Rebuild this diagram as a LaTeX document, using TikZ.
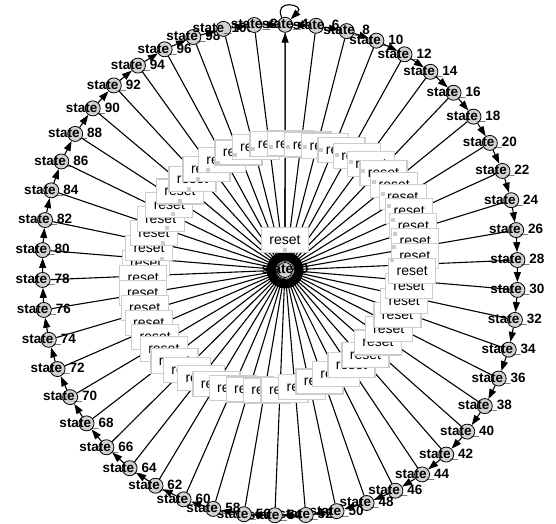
\documentclass[tikz,border=0pt]{standalone}
\usepackage{fontspec}
\setmainfont{Liberation Sans}
\usetikzlibrary{arrows.meta,calc}
\pgfdeclarelayer{edgelayer}
\pgfdeclarelayer{boxlayer}
\pgfsetlayers{edgelayer,boxlayer,main}
\tikzset{
  st/.style={circle, draw, fill=gray!35, minimum size=15pt, inner sep=0pt, line width=0.8pt},
  stlabel/.style={font=\fontsize{13.5}{14}\selectfont\bfseries, inner sep=0pt},
  resetbox/.style={draw=gray!40, fill=white, line width=1.2pt, minimum width=47pt, minimum height=25pt, inner sep=0pt, font=\fontsize{14}{14}\selectfont},
  ed/.style={line width=1.1pt, -{Triangle[length=10pt,width=7pt]}},
  anchormark/.style={fill=gray!40},
}
\begin{document}
\begin{tikzpicture}[x=1pt,y=-1pt]
\useasboundingbox (0,0) rectangle (556,523);
\node[st] (c) at (285,270) {};
\node[stlabel] (tc) at (c) {state\_0};
\foreach \k in {0,...,49} {
  \pgfmathsetmacro\ang{1.2+7.2*\k}
  \pgfmathsetmacro\rad{241+4*cos(2*\ang)+7*abs(sin(2*\ang))}
  \pgfmathtruncatemacro\num{2*(mod(\k+1,50)+1)}
  \node[st] (n\k) at ({280+\rad*sin(\ang)},{270-\rad*cos(\ang)}) {};
  \node[stlabel] (t\k) at (n\k) {state\_\num};
}
\begin{pgfonlayer}{edgelayer}
\foreach \k in {0,...,49} {
  \pgfmathtruncatemacro\j{mod(\k+1,50)}
  \draw[ed] (n\k) -- (n\j);
  \draw[ed] (n\k) -- (c);
}
\draw[ed] (c) -- (n0);
\path (n0) edge[ed, out=115, in=45, looseness=6] (n0);
\end{pgfonlayer}
\begin{pgfonlayer}{boxlayer}
\foreach \k in {37,36,...,13,38,39,...,49,0,1,...,12} {
  \pgfmathsetmacro\ang{1.2+7.2*\k}
  \pgfmathsetmacro\dx{-3.5+26.5*cos(\ang)+13.5*sin(\ang)}
  \pgfmathsetmacro\dy{-3+9*sin(\ang)}
  \pgfmathtruncatemacro\sa{mod(atan2(\dy,-\dx)+720,360)}
  \coordinate (m\k) at ($(n\k)!0.5!(c)$);
  \node[resetbox] (r\k) at ($(m\k)+(\dx,\dy)$) {reset};
  \fill[anchormark] ($(r\k.\sa)!4pt!(r\k.center)$) +(-2,-2) rectangle +(2,2);
}
\node[resetbox] (rc) at (285,240) {reset};
\fill[anchormark] ($(rc.south)+(-2,-5.5)$) rectangle ++(4,4);
\end{pgfonlayer}
\end{tikzpicture}
\end{document}
